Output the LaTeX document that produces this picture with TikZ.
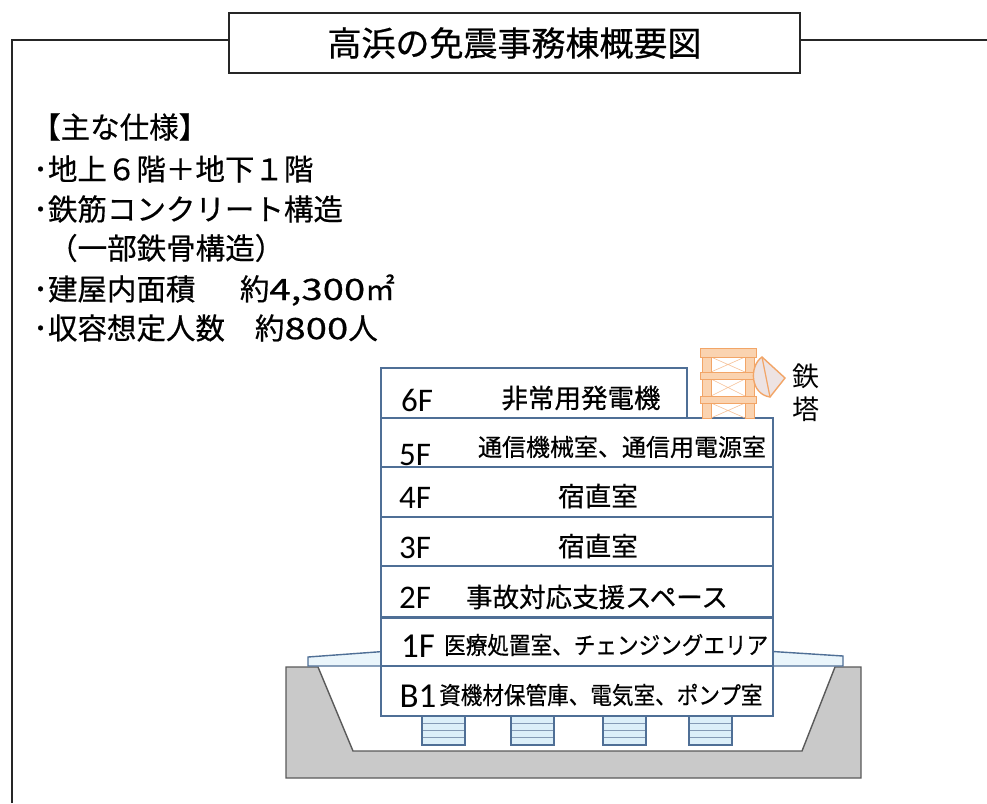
\documentclass[tikz,border=0pt]{standalone}
\usepackage{fontspec}
\setmainfont{Noto Sans CJK JP}
\newfontfamily\heavyfont[FakeBold=0.5]{Noto Sans CJK JP}
\newfontfamily\floorfont{Carlito}
\definecolor{bldg}{HTML}{4F6F96}
\definecolor{slabfill}{HTML}{EAF5FB}
\definecolor{isofill}{HTML}{DCEFF9}
\definecolor{earth}{HTML}{C9C9C9}
\definecolor{earthline}{HTML}{5A5A5A}
\definecolor{towerline}{HTML}{F2A567}
\definecolor{towerfill}{HTML}{FAD3B0}
\definecolor{dishfill}{HTML}{EDE3E3}
\newcommand\fsz[1]{\fontsize{#1}{#1}\selectfont}
\newcommand\widedigits[1]{\scalebox{1.3}[1]{#1}}
\begin{document}
\begin{tikzpicture}[x=1pt,y=-1pt,
  frameline/.style={draw=black!85,line width=1.6pt},
  floorbox/.style={draw=bldg,line width=1.6pt,fill=white},
  groundshape/.style={draw=earthline,line width=1.4pt,fill=earth},
  slabshape/.style={draw=bldg,line width=1.4pt,fill=slabfill},
  isobox/.style={draw=bldg,line width=1.3pt,fill=isofill},
  isoline/.style={draw=bldg!70,line width=0.8pt},
  towerpart/.style={draw=towerline,line width=1pt,fill=towerfill},
  towerbrace/.style={draw=towerline!70,line width=0.6pt},
  spec/.style={anchor=west,inner sep=0pt,font=\heavyfont\fsz{29.5}},
  flabel/.style={inner sep=0pt,font=\floorfont\fsz{33}},
  tlabel/.style={inner sep=0pt,font=\fsz{27}},
  froom/.style={inner sep=0pt,font=\heavyfont\fsz{26.5}},
  fsmall/.style={inner sep=0pt,font=\heavyfont\fsz{24}}]
\useasboundingbox (0,0) rectangle (987,803);
\fill[white] (0,0) rectangle (987,803);

% outer frame and title
\node[draw=black!85,line width=1.6pt,fill=white,minimum width=571pt,minimum height=60pt,
      inner sep=0pt,font=\heavyfont\fsz{34}] (title) at (514.5,43) {高浜の免震事務棟概要図};
\coordinate (ftl) at (12,40);
\coordinate (fbl) at (12,803);
\coordinate (ftr) at (987,40);
\draw[frameline] (fbl) -- (ftl) -- (title.west |- ftl);
\draw[frameline] (title.east |- ftr) -- (ftr);

% specification list
\node[spec] (s0) at (31,127) {【主な仕様】};
\node[spec] (s1) at (33,169) {･地上６階＋地下１階};
\node[spec] (s2) at (33,209) {･鉄筋コンクリート構造};
\node[spec] (s3) at (48,248) {（一部鉄骨構造）};
\node[spec] (s4) at (33,290) {･\makebox[192pt][l]{建屋内面積}約\widedigits{4,300}㎡};
\node[spec] (s5) at (33,328) {･\makebox[207pt][l]{収容想定人数}約\widedigits{800}人};

% ground pit
\draw[groundshape] (286,667) -- (318,667) -- (353,751) -- (802,751) -- (835,667)
  -- (861,667) -- (861,778) -- (286,778) -- cycle;

% ground floor slab
\draw[slabshape] (308,657) -- (390,651) -- (765,651) -- (843,656) -- (843,666) -- (308,666) -- cycle;

% seismic isolators
\foreach \x in {422,511,603,689}{
  \draw[isobox] (\x,716) rectangle ++(43,29);
  \foreach \yy in {723,730,737}{
    \draw[isoline] (\x+1,\yy) -- ++(41,0);
  }
}

% floors
\draw[floorbox] (381,666) rectangle (773,716);
\draw[floorbox] (381,617) rectangle (773,666);
\draw[floorbox] (381,566) rectangle (773,617);
\draw[floorbox] (381,517) rectangle (773,566);
\draw[floorbox] (381,467) rectangle (773,517);
\draw[floorbox] (381,418) rectangle (773,467);
\draw[floorbox] (381,368) rectangle (687,418);
\draw[draw=bldg,line width=3pt] (381,617) -- (773,617);

% steel tower
\foreach \yy/\h in {357/372,379/396,403/418}{
  \draw[towerbrace] (711,\yy) -- (745,\h) (745,\yy) -- (711,\h);
}
\draw[towerpart] (702,350) rectangle (711,418);
\draw[towerpart] (745,350) rectangle (754,418);
\draw[towerpart] (700,348) rectangle (756,357);
\draw[towerpart] (700,372) rectangle (756,379);
\draw[towerpart] (700,396) rectangle (756,403);
\draw[draw=towerline,line width=1.4pt,fill=dishfill]
  (762,357) -- (785,378) -- (770,397) .. controls (750,394) and (749,366) .. cycle;
\draw[draw=towerline,line width=1.2pt] (762,357) -- (770,397);
\node[tlabel] (t1) at (806,376) {鉄};
\node[tlabel] (t2) at (806,409) {塔};

% floor labels
\node[flabel] (f6) at (417,400) {6F};
\node[froom]  (r6) at (581,398) {非常用発電機};
\node[flabel] (f5) at (415,455) {5F};
\node[fsmall] (r5) at (622,447) {通信機械室、通信用電源室};
\node[flabel] (f4) at (415,498) {4F};
\node[froom]  (r4) at (598,496) {宿直室};
\node[flabel] (f3) at (415,548) {3F};
\node[froom]  (r3) at (598,546) {宿直室};
\node[flabel] (f2) at (415,598) {2F};
\node[froom]  (r2) at (597,597) {事故対応支援スペース};
\node[inner sep=0pt,font=\floorfont\fsz{35}] (f1) at (418,646) {1F};
\node[fsmall,anchor=west,xscale=0.9] (r1) at (444,645) {医療処置室、チェンジングエリア};
\node[inner sep=0pt,font=\floorfont\fsz{35}] (fb) at (418,696) {B1};
\node[fsmall,anchor=west,xscale=0.9] (rb) at (439,695) {資機材保管庫、電気室、ポンプ室};
\end{tikzpicture}
\end{document}
